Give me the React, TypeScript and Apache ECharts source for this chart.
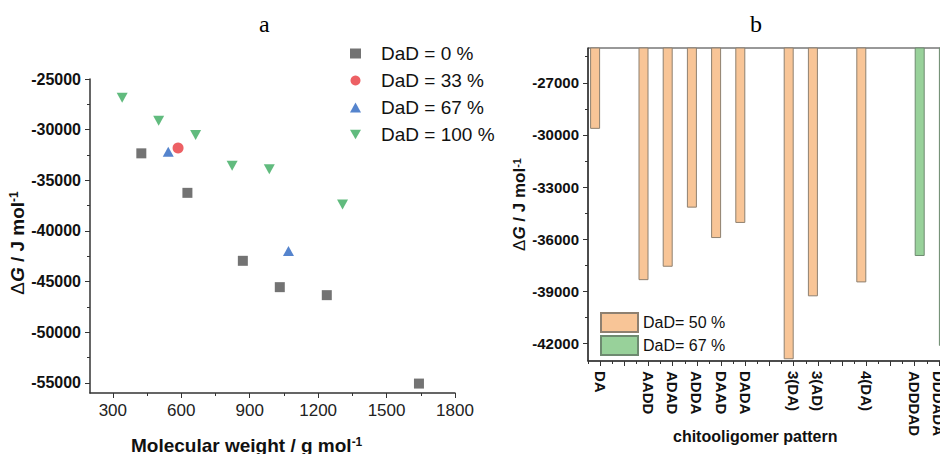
import React, { useEffect, useRef } from 'react';
import * as echarts from 'echarts';

// ---- Panel a data (molecular weight, ΔG) ----
const dad0: [number, number][] = [[425, -32340], [627, -36240], [870, -42950], [1032, -45550], [1238, -46340], [1642, -55070]];
const dad33: [number, number][] = [[586, -31820]];
const dad67: [number, number][] = [[543, -32180], [1070, -41970]];
const dad100: [number, number][] = [[341, -26850], [501, -29120], [663, -30530], [823, -33560], [986, -33920], [1307, -37380]];

const mwTicks = [300, 600, 900, 1200, 1500, 1800];
const mwMinorTicks = [450, 750, 1050, 1350, 1650];
const gTicksA = [-55000, -50000, -45000, -40000, -35000, -30000, -25000];
const gMinorTicksA = [-52500, -47500, -42500, -37500, -32500, -27500];

// ---- Panel b data (pattern, ΔG) ----
const patterns = ['DA', '', 'AADD', 'ADAD', 'ADDA', 'DAAD', 'DADA', '', '3(DA)', '3(AD)', '', '4(DA)', '', 'ADDDAD', 'DDDADA'];
const dad50Bars = [-29650, null, -38350, -37580, -34180, -35930, -35060, null, -42900, -39280, null, -38480, null, null, null];
const dad67Bars = [null, null, null, null, null, null, null, null, null, null, null, null, null, -36960, -42130];
const gTicksB = [-42000, -39000, -36000, -33000, -30000, -27000];
const gMinorTicksB = [-40500, -37500, -34500, -31500, -28500, -25500];

const SANS = 'Liberation Sans, Arial, sans-serif';
const SERIF = 'Liberation Serif, Times New Roman, serif';
const AX = '#333';

export default function App() {
  const ref = useRef<HTMLDivElement>(null);
  useEffect(() => {
    if (!ref.current) return;
    const chart = echarts.init(ref.current, undefined, { renderer: 'svg' });
    const fmt = (v: number) => String(v);
    const yNameRich = (size: number) => ({
      d: { fontFamily: SANS, fontSize: size, fontWeight: 'normal', color: '#111' },
      g: { fontFamily: SANS, fontSize: size, fontWeight: 'bold', fontStyle: 'italic', color: '#111' },
      b: { fontFamily: SANS, fontSize: size, fontWeight: 'bold', color: '#111' },
      s: { fontFamily: SANS, fontSize: Math.round(size * 0.62), fontWeight: 'bold', color: '#111', verticalAlign: 'top' },
    });
    const option: any = {
      animation: false,
      backgroundColor: '#fff',
      title: [
        { text: 'a', left: 259, top: 12, padding: 0, textStyle: { fontFamily: SERIF, fontSize: 24, fontWeight: 'normal', color: '#000' } },
        { text: 'b', left: 750, top: 12, padding: 0, textStyle: { fontFamily: SERIF, fontSize: 24, fontWeight: 'normal', color: '#000' } },
        {
          text: '{b|Molecular weight / g mol}{s|-1}', left: 131, top: 436, padding: 0,
          textStyle: { rich: { b: { fontFamily: SANS, fontSize: 19, fontWeight: 'bold', color: '#111' }, s: { fontFamily: SANS, fontSize: 12, fontWeight: 'bold', color: '#111', verticalAlign: 'top' } } },
        },
        { text: 'chitooligomer pattern', left: 673, top: 428, padding: 0, textStyle: { fontFamily: SANS, fontSize: 16, fontWeight: 'bold', color: '#111' } },
      ],
      legend: [
        {
          left: 350, top: 44, padding: 0, orient: 'vertical', itemWidth: 11, itemHeight: 10, itemGap: 8,
          symbolKeepAspect: true,
          textStyle: { fontFamily: SANS, fontSize: 19, color: '#111', padding: [0, 0, 0, 15] },
          data: ['DaD = 0 %', 'DaD = 33 %', 'DaD = 67 %', 'DaD = 100 %'],
        },
        {
          left: 600, top: 312, padding: 0, orient: 'vertical', itemWidth: 37, itemHeight: 19, itemGap: 2, icon: 'rect',
          textStyle: { fontFamily: SANS, fontSize: 16, color: '#111' },
          data: ['DaD= 50 %', 'DaD= 67 %'],
        },
      ],
      grid: [
        { left: 90, top: 79, width: 365, height: 314, show: false },
        { left: 588, top: 48, width: 363, height: 313, show: true, borderColor: AX, borderWidth: 1 },
      ],
      xAxis: [
        {
          type: 'value', gridIndex: 0, position: 'bottom', min: 200, max: 1800,
          axisLine: { show: true, lineStyle: { color: AX, width: 1.5 } },
          axisTick: { show: true, length: 5, customValues: mwTicks, lineStyle: { color: AX } },
          axisLabel: { customValues: mwTicks, formatter: fmt, fontFamily: SANS, fontSize: 17, color: '#222', margin: 9 },
          splitLine: { show: false },
        },
        {
          type: 'value', gridIndex: 0, position: 'bottom', min: 200, max: 1800,
          axisLine: { show: false },
          axisTick: { show: true, length: 3, customValues: mwMinorTicks, lineStyle: { color: AX } },
          axisLabel: { show: false },
          splitLine: { show: false },
        },
        {
          type: 'category', gridIndex: 1, position: 'bottom', data: patterns,
          axisLine: { show: true, lineStyle: { color: AX, width: 1.5 } },
          axisTick: { show: true, alignWithLabel: true, interval: 0, length: 5, lineStyle: { color: AX } },
          axisLabel: { interval: 0, rotate: -90, fontFamily: SANS, fontSize: 15, fontWeight: 'bold', color: '#111', margin: 10 },
          splitLine: { show: false },
        },
        {
          type: 'category', gridIndex: 1, position: 'bottom', data: patterns,
          axisLine: { show: false },
          axisTick: { show: true, interval: 0, length: 3, lineStyle: { color: AX } },
          axisLabel: { show: false },
          splitLine: { show: false },
        },
      ],
      yAxis: [
        {
          type: 'value', gridIndex: 0, position: 'left', min: -56000, max: -25000,
          name: '{d|Δ}{g|G}{b| / J mol}{s|-1}', nameLocation: 'middle', nameRotate: 90, nameGap: 58,
          nameTextStyle: { rich: yNameRich(19), padding: [0, 14, 0, 0] },
          axisLine: { show: true, lineStyle: { color: AX, width: 1.5 } },
          axisTick: { show: true, length: 5, customValues: gTicksA, lineStyle: { color: AX } },
          axisLabel: { customValues: gTicksA, formatter: fmt, fontFamily: SANS, fontSize: 16, fontWeight: 'bold', color: '#111', margin: 9 },
          splitLine: { show: false },
        },
        {
          type: 'value', gridIndex: 0, position: 'left', min: -56000, max: -25000,
          axisLine: { show: false },
          axisTick: { show: true, length: 3, customValues: gMinorTicksA, lineStyle: { color: AX } },
          axisLabel: { show: false },
          splitLine: { show: false },
        },
        {
          type: 'value', gridIndex: 1, position: 'left', min: -43000, max: -25000,
          name: '{d|Δ}{g|G}{b| / J mol}{s|-1}', nameLocation: 'middle', nameRotate: 90, nameGap: 58,
          nameTextStyle: { rich: yNameRich(17) },
          axisLine: { show: true, lineStyle: { color: AX, width: 1.5 } },
          axisTick: { show: true, length: 5, customValues: gTicksB, lineStyle: { color: AX } },
          axisLabel: { customValues: gTicksB, formatter: fmt, fontFamily: SANS, fontSize: 15, fontWeight: 'bold', color: '#111', margin: 9 },
          splitLine: { show: false },
        },
        {
          type: 'value', gridIndex: 1, position: 'left', min: -43000, max: -25000,
          axisLine: { show: false },
          axisTick: { show: true, length: 3, customValues: gMinorTicksB, lineStyle: { color: AX } },
          axisLabel: { show: false },
          splitLine: { show: false },
        },
      ],
      series: [
        { name: 'DaD = 0 %', type: 'scatter', xAxisIndex: 0, yAxisIndex: 0, symbol: 'rect', symbolSize: 10, symbolKeepAspect: true, itemStyle: { color: '#505050' }, data: dad0 },
        { name: 'DaD = 33 %', type: 'scatter', xAxisIndex: 0, yAxisIndex: 0, symbol: 'circle', symbolSize: 11, symbolKeepAspect: true, itemStyle: { color: '#E8383D' }, data: dad33 },
        { name: 'DaD = 67 %', type: 'scatter', xAxisIndex: 0, yAxisIndex: 0, symbol: 'triangle', symbolSize: [11, 10], itemStyle: { color: '#2A65C0' }, data: dad67 },
        { name: 'DaD = 100 %', type: 'scatter', xAxisIndex: 0, yAxisIndex: 0, symbol: 'path://M0 0L2 0L1 1.732Z', symbolSize: [11, 10], itemStyle: { color: '#3AAA5E' }, data: dad100 },
        {
          name: 'DaD= 50 %', type: 'bar', xAxisIndex: 2, yAxisIndex: 2, barWidth: 10, barGap: '0%', clip: true,
          itemStyle: { color: '#F8C597', borderColor: '#8E8070', borderWidth: 1 }, data: dad50Bars,
        },
        {
          name: 'DaD= 67 %', type: 'bar', xAxisIndex: 2, yAxisIndex: 2, barWidth: 10, barGap: '0%', clip: true,
          itemStyle: { color: '#98D19A', borderColor: '#6E8A70', borderWidth: 1 }, data: dad67Bars,
        },
      ],
    };
    chart.setOption(option);
    return () => chart.dispose();
  }, []);
  return (
    <div style={{ position: 'absolute', left: 0, top: 0, width: 940, height: 454, overflow: 'hidden', background: '#fff' }}>
      <div ref={ref} style={{ position: 'absolute', left: 0, top: 0, width: 970, height: 454 }} />
    </div>
  );
}
